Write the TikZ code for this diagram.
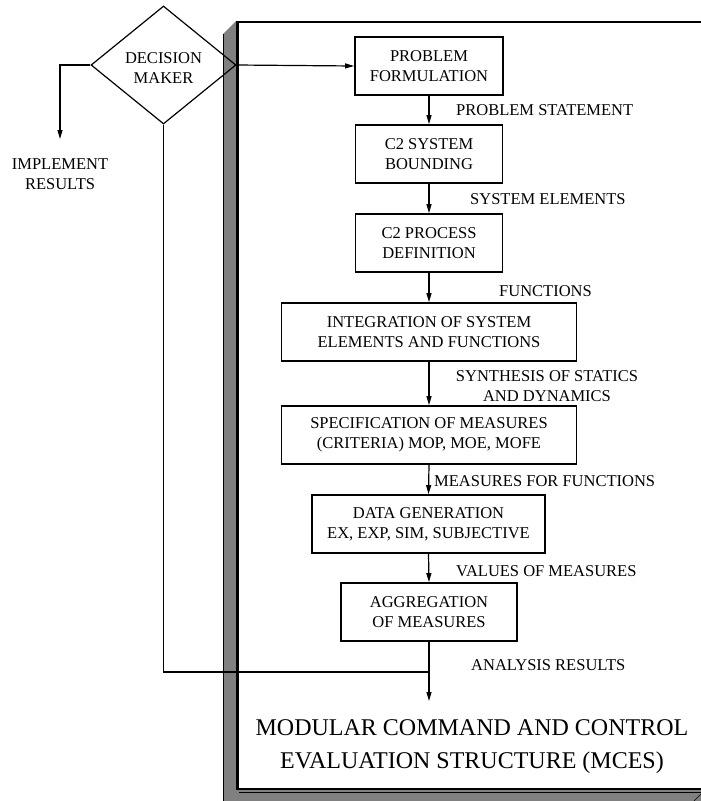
\documentclass[tikz,border=0pt]{standalone}
\usepackage{fontspec}
\setmainfont{Liberation Serif}
\usetikzlibrary{arrows.meta,shapes.geometric}
\definecolor{shadowgray}{RGB}{128,128,128}
\begin{document}
\begin{tikzpicture}[x=1pt,y=-1pt,
  txt/.style={font=\fontsize{16.5}{19.8}\selectfont, inner sep=0pt},
  stepbox/.style={txt, draw, line width=1.8pt, rectangle, align=center,
                  minimum height=58pt},
  flow/.style={line width=1.2pt, -{Triangle[length=9pt,width=5pt]}},
  plain/.style={line width=1.2pt},
  lbl/.style={txt, anchor=west},
]
\useasboundingbox (0,0) rectangle (701,801);
\clip (0,0) rectangle (701,801);

% bevelled shadow of the MCES frame (left and bottom)
\fill[shadowgray] (223,34) -- (236,21) -- (236,790) -- (701,790)
      -- (701,801) -- (223,801) -- cycle;
\fill[white] (237.5,22) rectangle (701,788);
\draw[line width=0.6pt] (223,34) -- (223,801);
\draw[line width=2.5pt] (237.5,21) -- (237.5,789) -- (701,789);
\draw[line width=2.5pt] (236.3,22) -- (701,22);
\draw[line width=0.8pt] (239,792) -- (701,792);
\draw[line width=0.6pt] (694,801) -- (701,794);

% decision maker
\node[draw, diamond, line width=1.2pt, minimum width=145pt, minimum height=118pt,
      inner sep=0pt, aspect=1.23] (dm) at (163.5,65) {};
\node[txt, align=center] (dmt) at (163.5,68) {DECISION\\MAKER};

% process steps
\node[stepbox, minimum width=148pt] (pf) at (429,66)  {PROBLEM\\FORMULATION};
\node[stepbox, minimum width=147pt] (sb) at (429,154) {C2 SYSTEM\\BOUNDING};
\node[stepbox, minimum width=147pt] (pd) at (429,243) {C2 PROCESS\\DEFINITION};
\node[stepbox, minimum width=295pt] (ig) at (429,332) {INTEGRATION OF SYSTEM\\ELEMENTS AND FUNCTIONS};
\node[stepbox, minimum width=295pt] (sm) at (429,435) {SPECIFICATION OF MEASURES\\(CRITERIA) MOP, MOE, MOFE};
\node[stepbox, minimum width=233pt] (dg) at (428.5,524) {DATA GENERATION\\EX, EXP, SIM, SUBJECTIVE};
\node[stepbox, minimum width=176pt] (ag) at (429,612) {AGGREGATION\\OF MEASURES};

% flow labels
\node[lbl] (l1) at (456,110) {PROBLEM STATEMENT};
\node[lbl] (l2) at (470,199) {SYSTEM ELEMENTS};
\node[lbl] (l3) at (499,291) {FUNCTIONS};
\node[txt, align=center] (l4) at (547,386) {SYNTHESIS OF STATICS\\AND DYNAMICS};
\node[lbl] (l5) at (434,481) {MEASURES FOR FUNCTIONS};
\node[lbl] (l6) at (456,571) {VALUES OF MEASURES};
\node[lbl] (l7) at (471,665) {ANALYSIS RESULTS};

% implement results
\node[txt, align=center] (ir) at (60,174) {IMPLEMENT\\RESULTS};
\coordinate (irc) at (60,65);
\coordinate (irt) at (60,139);
\coordinate (fb1) at (163.5,672);
\coordinate (fb2) at (429,672);
\coordinate (out) at (429,701);

% connectors
\draw[flow] (dm.east) -- (pf.west);
\draw[flow] (dm.west) -- (irc) -- (irt);
\draw[flow] (pf.south) -- (sb.north);
\draw[flow] (sb.south) -- (pd.north);
\draw[flow] (pd.south) -- (ig.north);
\draw[flow] (ig.south) -- (sm.north);
\draw[flow] (sm.south) -- (dg.north);
\draw[flow] (dg.south) -- (ag.north);
\draw[flow] (ag.south) -- (out);
\draw[plain] (dm.south) -- (fb1) -- (fb2);

% title
\node[font=\fontsize{24}{33}\selectfont, inner sep=0pt, align=center] (title) at (472,747)
  {MODULAR COMMAND AND CONTROL\\EVALUATION STRUCTURE (MCES)};
\end{tikzpicture}
\end{document}
